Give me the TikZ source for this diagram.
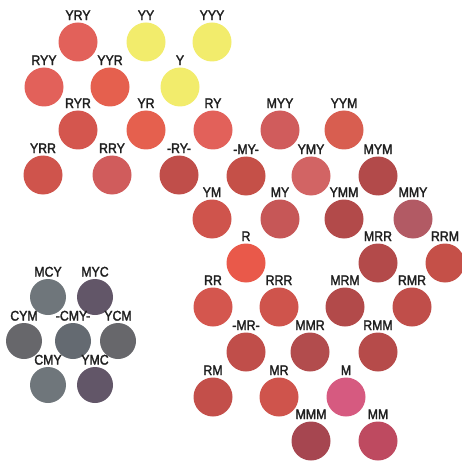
\documentclass[tikz,border=0pt]{standalone}
\usepackage{xcolor}
\usepackage{fontspec}
\setmainfont{Liberation Sans}
\newfontfamily\tagfont{Liberation Sans}[FakeBold=2, FakeStretch=0.88]
\usepackage{tikz}

% chip colours
\definecolor{yellowchip}{HTML}{F2EC6C}
\definecolor{salmon}{HTML}{E2615A}
\definecolor{orangered}{HTML}{E5604E}
\definecolor{coral}{HTML}{D4564E}
\definecolor{brick}{HTML}{CF544C}
\definecolor{rose}{HTML}{D05C5C}
\definecolor{rust}{HTML}{C04E4A}
\definecolor{wine}{HTML}{B24A4A}
\definecolor{mauve}{HTML}{B25A64}
\definecolor{scarlet}{HTML}{E9594A}
\definecolor{magenta}{HTML}{D65A80}
\definecolor{plum}{HTML}{A64650}
\definecolor{berry}{HTML}{BE4A60}
\definecolor{tomato}{HTML}{D85E50}
\definecolor{slate}{HTML}{6F767B}
\definecolor{aubergine}{HTML}{625668}
\definecolor{ash}{HTML}{67676B}
\definecolor{steel}{HTML}{646A71}

\tikzset{
  chip/.style={circle, fill=#1, minimum size=39pt, inner sep=0pt},
  greychip/.style={circle, fill=#1, minimum size=36pt, inner sep=0pt},
  tag/.style={inner sep=0pt, text depth=0pt, font=\tagfont\fontsize{14}{14}\selectfont, text=black!88},
  every label/.style={tag},
  label distance=2pt
}

\begin{document}
\begin{tikzpicture}[x=1pt,y=-1pt]
  \useasboundingbox (0,0) rectangle (462,465);

  % Yellow / red corner
  \node[chip=salmon, label=above:YRY] (yry) at (78,42) {};
  \node[chip=yellowchip, label=above:YY] (yy) at (146,42) {};
  \node[chip=yellowchip, label=above:YYY] (yyy) at (212,42) {};
  \node[chip=salmon, label=above:RYY] (ryy) at (44,87) {};
  \node[chip=orangered, label=above:YYR] (yyr) at (110,87) {};
  \node[chip=yellowchip, label=above:Y] (y) at (180,87) {};
  \node[chip=coral, label=above:RYR] (ryr) at (78,130) {};
  \node[chip=orangered, label=above:YR] (yr) at (146,130) {};
  \node[chip=salmon, label=above:RY] (ry) at (213,130) {};
  \node[chip=brick, label=above:YRR] (yrr) at (43,175) {};
  \node[chip=rose, label=above:RRY] (rry) at (112,175) {};
  \node[chip=rust, label=above:-RY-] (mry) at (179,175) {};

  % Yellow / magenta side
  \node[chip=rose, label=above:MYY] (myy) at (280,130) {};
  \node[chip=tomato, label=above:YYM] (yym) at (344,130) {};
  \node[chip=brick!95!black, label=above:-MY-] (mmy) at (246,176) {};
  \node[chip=rose!95!white, label=above:YMY] (ymy) at (311,176) {};
  \node[chip=wine, label=above:MYM] (mym) at (378,176) {};
  \node[chip=brick, label=above:YM] (ym) at (212,219) {};
  \node[chip=rose!95!black, label=above:MY] (my) at (280,219) {};
  \node[chip=wine, label=above:YMM] (ymm) at (344,219) {};
  \node[chip=mauve, label=above:MMY] (mmy2) at (413,219) {};

  % Red / magenta side
  \node[chip=scarlet, label=above:R] (r) at (246,263) {};
  \node[chip=wine!90!rust, label=above:MRR] (mrr) at (378,263) {};
  \node[chip=brick!95!black, label=above:RRM] (rrm) at (445,263) {};
  \node[chip=coral, label=above:RR] (rr) at (213,307) {};
  \node[chip=brick, label=above:RRR] (rrr) at (279,307) {};
  \node[chip=wine, label=above:MRM] (mrm) at (345,307) {};
  \node[chip=rust, label=above:RMR] (rmr) at (412,307) {};
  \node[chip=rust, label=above:-MR-] (mmr2) at (246,352) {};
  \node[chip=wine!90!mauve, label=above:MMR] (mmr) at (310,352) {};
  \node[chip=wine!70!rust, label=above:RMM] (rmm) at (378,352) {};
  \node[chip=rust!80!brick, label=above:RM] (rm) at (213,397) {};
  \node[chip=brick, label=above:MR] (mr) at (279,397) {};
  \node[chip=magenta, label=above:M] (m) at (346,397) {};
  \node[chip=plum, label=above:MMM] (mmm) at (311,441) {};
  \node[chip=berry, label=above:MM] (mm) at (378,441) {};

  % Grey mixtures
  \node[greychip=slate, label=above:MCY] (mcy) at (48,297) {};
  \node[greychip=aubergine, label=above:MYC] (myc) at (95,297) {};
  \node[greychip=ash, label=above:CYM] (cym) at (24,341) {};
  \node[greychip=steel, label=above:-CMY-] (cmyc) at (73,341) {};
  \node[greychip=ash, label=above:YCM] (ycm) at (118,341) {};
  \node[greychip=slate, label=above:CMY] (cmy) at (48,385) {};
  \node[greychip=aubergine, label=above:YMC] (ymc) at (95,385) {};
\end{tikzpicture}
\end{document}
